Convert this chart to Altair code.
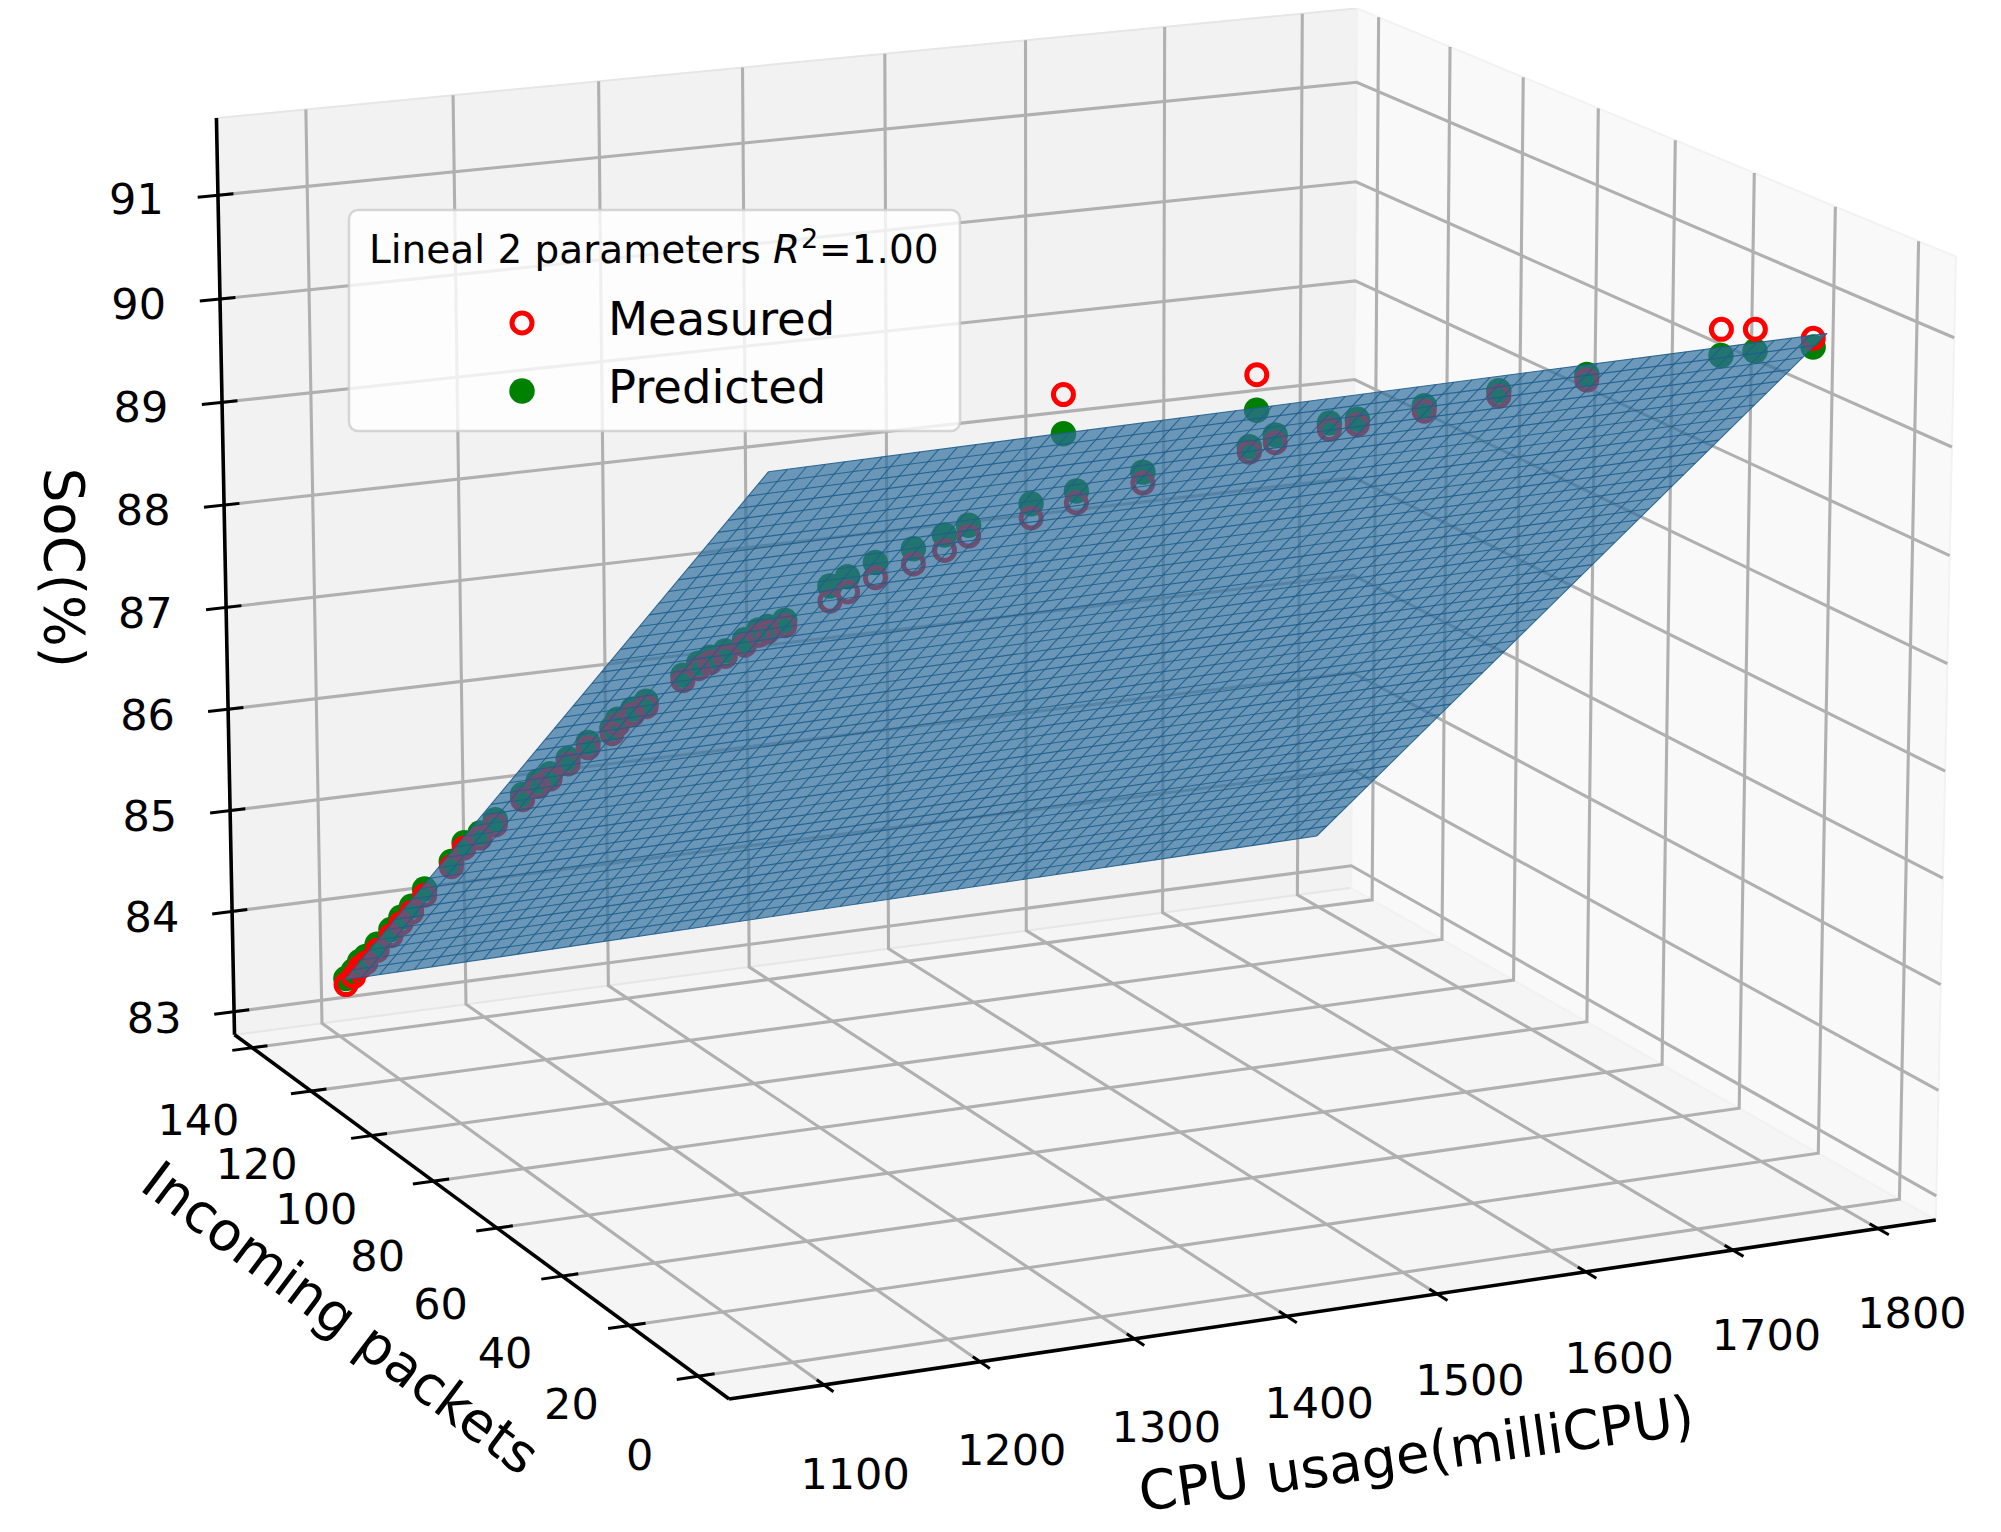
import math
import altair as alt
import pandas as pd

# ---------------- data ----------------
cpu_usage = [1102, 1103, 1102, 1103, 1104, 1105, 1105, 1106, 1105, 1108,
             1106, 1112, 1115, 1120, 1123, 1127, 1131, 1136, 1145, 1143,
             1148, 1153, 1164, 1168, 1173, 1180, 1188, 1192, 1196, 1205,
             1216, 1223, 1235, 1254, 1268, 1280, 1312, 1337, 1290, 1374,
             1416, 1436, 1447, 1481, 1500, 1539, 1585, 1641, 1730, 1754, 1796]
incoming_packets = [138.6, 136.5, 133.8, 132.2, 128.8, 124.6, 121.2, 118.1, 113.2, 105.8,
                    100.6, 98.3, 94.8, 88.4, 84.9, 83.0, 79.2, 75.3, 72.1, 69.4,
                    67.1, 65.3, 59.2, 56.3, 55.1, 53.8, 51.7, 49.3, 48.5, 47.5,
                    39.3, 37.3, 34.6, 32.1, 29.4, 27.8, 24.1, 22.2, 6.2, 19.5,
                    6.5, 16.3, 13.9, 13.2, 13.4, 11.3, 9.9, 8.8, 8.2, 8.5, 9.3]
soc_predicted = [83.37, 83.49, 83.64, 83.72, 83.91, 84.14, 84.33, 84.50, 84.77, 85.18,
                 85.47, 85.60, 85.79, 86.15, 86.34, 86.44, 86.65, 86.87, 87.05, 87.19,
                 87.32, 87.42, 87.76, 87.92, 87.99, 88.06, 88.19, 88.32, 88.36, 88.42,
                 88.87, 88.98, 89.14, 89.28, 89.43, 89.53, 89.74, 89.85, 90.72, 90.01,
                 90.73, 90.20, 90.33, 90.40, 90.40, 90.50, 90.59, 90.67, 90.72, 90.72, 90.68]
soc_measured = [83.31, 83.43, 83.58, 83.66, 83.85, 84.08, 84.27, 84.44, 84.71, 85.13,
                85.42, 85.55, 85.74, 86.10, 86.29, 86.39, 86.60, 86.82, 87.00, 87.14,
                87.27, 87.37, 87.71, 87.87, 87.94, 88.01, 88.14, 88.27, 88.31, 88.37,
                88.73, 88.84, 89.00, 89.14, 89.29, 89.43, 89.61, 89.74, 91.07, 89.91,
                91.05, 90.15, 90.26, 90.34, 90.35, 90.45, 90.54, 90.62, 90.96, 90.92, 90.76]

cpu_ticks = [1100, 1200, 1300, 1400, 1500, 1600, 1700, 1800]
packet_ticks = [0, 20, 40, 60, 80, 100, 120, 140]
soc_ticks = [83, 84, 85, 86, 87, 88, 89, 90, 91]

# fitted plane drawn as a surface: corner values
surface_cpu = [1102, 1796]
surface_packets = [139, 6]
surface_soc = [83.35, 83.53, 90.68, 90.86]   # (c0,p0) (c1,p0) (c0,p1) (c1,p1)
mesh_cpu_steps = 58
mesh_packet_steps = 46

axis_titles = ["CPU usage(milliCPU)", "Incoming packets", "SoC(%)"]
legend_title = ["Lineal 2 parameters", "R", "2", "=1.00"]
series_names = ["Measured", "Predicted"]

# ---------------- camera / layout ----------------
ELEV, AZIM, DIST = 15.0, -115.0, 10.0
XLIM = (1039.8, 1840.2)
YLIM = (-8.8, 146.1)
ZLIM = (82.77, 91.74)
_asp = [4.0, 4.0, 3.0]
_n = math.sqrt(sum(a * a for a in _asp))
BOX = [a * 1.8294640721620434 / _n for a in _asp]
KX, KY, CX, CY = 11318.0, 11345.0, 1062.7, 660.4
W, H, M = 1985, 1516, 8
FONT = "DejaVu Sans"
RING_SIZE, DOT_SIZE = 400, 650

_e, _a = math.radians(ELEV), math.radians(AZIM)
U = (-math.sin(_a), math.cos(_a), 0.0)
V = (-math.sin(_e) * math.cos(_a), -math.sin(_e) * math.sin(_a), math.cos(_e))
N = (math.cos(_e) * math.cos(_a), math.cos(_e) * math.sin(_a), math.sin(_e))
XR, YR, ZR = XLIM[1] - XLIM[0], YLIM[1] - YLIM[0], ZLIM[1] - ZLIM[0]


def project(ch):
    return (ch.transform_calculate(
        qx=f"((datum.X - ({XLIM[0]})) / {XR} - 0.5) * {BOX[0]}",
        qy=f"((datum.Y - ({YLIM[0]})) / {YR} - 0.5) * {BOX[1]}",
        qz=f"((datum.Z - ({ZLIM[0]})) / {ZR} - 0.5) * {BOX[2]}",
    ).transform_calculate(
        qd=f"{DIST} - (({N[0]})*datum.qx + ({N[1]})*datum.qy + ({N[2]})*datum.qz)"
    ).transform_calculate(
        sx=f"{CX} + {KX} * (({U[0]})*datum.qx + ({U[1]})*datum.qy) / datum.qd",
        sy=f"{CY} - {KY} * (({V[0]})*datum.qx + ({V[1]})*datum.qy + ({V[2]})*datum.qz) / datum.qd",
    ))


XS = alt.Scale(domain=[M, M + W], nice=False, zero=False)
YS = alt.Scale(domain=[M, M + H], nice=False, zero=False, reverse=True)


def xy():
    return dict(x=alt.X("sx:Q", scale=XS, axis=None),
                y=alt.Y("sy:Q", scale=YS, axis=None))


x0, x1 = XLIM
y0, y1 = YLIM
z0, z1 = ZLIM
layers = []

# panes
panes = [
    ("floor", [(x0, y0, z0), (x1, y0, z0), (x1, y1, z0), (x0, y1, z0)], "#f5f5f5", "#ececec"),
    ("back", [(x0, y1, z0), (x1, y1, z0), (x1, y1, z1), (x0, y1, z1)], "#f2f2f2", "#e6e6e6"),
    ("right", [(x1, y0, z0), (x1, y1, z0), (x1, y1, z1), (x1, y0, z1)], "#f9f9f9", "#f2f2f2"),
]
for name, pts, fc, ec in panes:
    pts = pts + [pts[0]]
    df = pd.DataFrame({"k": range(len(pts)), "X": [p[0] for p in pts],
                       "Y": [p[1] for p in pts], "Z": [p[2] for p in pts]})
    layers.append(project(alt.Chart(df)).mark_line(fill=fc, stroke=ec, strokeWidth=2)
                  .encode(**xy(), order="k:Q"))

# grid lines
rows = []
for i, v in enumerate(cpu_ticks):
    for k, p in enumerate([(v, y0, z0), (v, y1, z0), (v, y1, z1)]):
        rows.append({"g": f"x{i}", "k": k, "X": p[0], "Y": p[1], "Z": p[2]})
for i, v in enumerate(packet_ticks):
    for k, p in enumerate([(x0, v, z0), (x1, v, z0), (x1, v, z1)]):
        rows.append({"g": f"y{i}", "k": k, "X": p[0], "Y": p[1], "Z": p[2]})
for i, v in enumerate(soc_ticks):
    for k, p in enumerate([(x0, y1, v), (x1, y1, v), (x1, y0, v)]):
        rows.append({"g": f"z{i}", "k": k, "X": p[0], "Y": p[1], "Z": p[2]})
layers.append(project(alt.Chart(pd.DataFrame(rows))).mark_line(color="#b0b0b0", strokeWidth=3.1)
              .encode(**xy(), detail="g:N", order="k:Q"))

# axis lines
rows = []
for g, pts in [("x", [(x0, y0, z0), (x1, y0, z0)]), ("y", [(x0, y0, z0), (x0, y1, z0)]),
               ("z", [(x0, y1, z0), (x0, y1, z1)])]:
    for k, p in enumerate(pts):
        rows.append({"g": g, "k": k, "X": p[0], "Y": p[1], "Z": p[2]})
layers.append(project(alt.Chart(pd.DataFrame(rows))).mark_line(color="black", strokeWidth=3.6)
              .encode(**xy(), detail="g:N", order="k:Q"))

# tick marks
OUT, INN = 0.017, 0.013
rows = []
for i, v in enumerate(cpu_ticks):
    for k, yy in enumerate([y0 - OUT * YR, y0 + INN * YR]):
        rows.append({"g": f"x{i}", "k": k, "X": v, "Y": yy, "Z": z0})
for i, v in enumerate(packet_ticks):
    for k, xx in enumerate([x0 - OUT * XR, x0 + INN * XR]):
        rows.append({"g": f"y{i}", "k": k, "X": xx, "Y": v, "Z": z0})
for i, v in enumerate(soc_ticks):
    for k, xx in enumerate([x0 - OUT * XR, x0 + INN * XR]):
        rows.append({"g": f"z{i}", "k": k, "X": xx, "Y": y1, "Z": v})
layers.append(project(alt.Chart(pd.DataFrame(rows))).mark_line(color="black", strokeWidth=3)
              .encode(**xy(), detail="g:N", order="k:Q"))

# tick labels
rows = []
for v in cpu_ticks:
    rows.append({"t": str(v), "X": v, "Y": y0 - 0.055 * YR, "Z": z0 - 0.07 * ZR})
for v in packet_ticks:
    rows.append({"t": str(v), "X": x0 - 0.047 * XR, "Y": v, "Z": z0 - 0.074 * ZR})
for v in soc_ticks:
    rows.append({"t": str(v), "X": x0 - 0.066 * XR, "Y": y1 + 0.006 * YR, "Z": v})
layers.append(project(alt.Chart(pd.DataFrame(rows)))
              .mark_text(font=FONT, fontSize=43, align="center", baseline="middle", color="black")
              .encode(**xy(), text="t:N"))

# axis titles (aligned with their axes)
title_pos = [
    (axis_titles[0], (x0 + 0.49 * XR, y0 - 0.136 * YR, z0 - 0.097 * ZR), 352),
    (axis_titles[1], (x0 - 0.108 * XR, y0 + 0.5 * YR, z0 - 0.10 * ZR), 37),
    (axis_titles[2], (x0 - 0.104 * XR, y1 + 0.0953 * YR, z0 + 0.5 * ZR), 90),
]
for txt, p, ang in title_pos:
    df = pd.DataFrame({"t": [txt], "X": [p[0]], "Y": [p[1]], "Z": [p[2]]})
    layers.append(project(alt.Chart(df))
                  .mark_text(font=FONT, fontSize=54.5, align="center", baseline="middle",
                             angle=ang, color="black")
                  .encode(**xy(), text="t:N"))

# scatter
pred_df = pd.DataFrame({"X": cpu_usage, "Y": incoming_packets, "Z": soc_predicted})
meas_df = pd.DataFrame({"X": cpu_usage, "Y": incoming_packets, "Z": soc_measured})
layers.append(project(alt.Chart(pred_df))
              .mark_point(shape="circle", filled=True, size=DOT_SIZE, color="#008000", opacity=1)
              .encode(**xy()))
layers.append(project(alt.Chart(meas_df))
              .mark_point(shape="circle", filled=False, size=RING_SIZE, stroke="#ff0000",
                          strokeWidth=5, opacity=1)
              .encode(**xy()))

# surface
c0, c1 = surface_cpu
p0, p1 = surface_packets
s00, s10, s01, s11 = surface_soc
corner = [(c0, p0, s00), (c1, p0, s10), (c1, p1, s11), (c0, p1, s01), (c0, p0, s00)]
surf_df = pd.DataFrame({"k": range(5), "X": [c[0] for c in corner],
                        "Y": [c[1] for c in corner], "Z": [c[2] for c in corner]})
layers.append(project(alt.Chart(surf_df))
              .mark_line(fill="#31709e", fillOpacity=0.7, strokeOpacity=0)
              .encode(**xy(), order="k:Q"))

bil = (f"{s00}*(1-datum.ec)*(1-datum.ep) + {s10}*datum.ec*(1-datum.ep) + "
       f"{s01}*(1-datum.ec)*datum.ep + {s11}*datum.ec*datum.ep")
mesh_p = (alt.Chart(alt.sequence(0, 2 * (mesh_packet_steps + 1), as_="i"))
          .transform_calculate(line="floor(datum.i / 2)", ec="datum.i % 2")
          .transform_calculate(ep=f"datum.line / {mesh_packet_steps}")
          .transform_calculate(X=f"{c0} + datum.ec * ({c1 - c0})",
                               Y=f"{p0} + datum.ep * ({p1 - p0})", Z=bil))
layers.append(project(mesh_p).mark_line(color="#1f5e8c", strokeWidth=1.1, opacity=0.9)
              .encode(**xy(), detail="line:N", order="ec:Q"))
mesh_c = (alt.Chart(alt.sequence(0, 2 * (mesh_cpu_steps + 1), as_="i"))
          .transform_calculate(line="floor(datum.i / 2)", ep="datum.i % 2")
          .transform_calculate(ec=f"datum.line / {mesh_cpu_steps}")
          .transform_calculate(X=f"{c0} + datum.ec * ({c1 - c0})",
                               Y=f"{p0} + datum.ep * ({p1 - p0})", Z=bil))
layers.append(project(mesh_c).mark_line(color="#1f5e8c", strokeWidth=1.1, opacity=0.9)
              .encode(**xy(), detail="line:N", order="ep:Q"))

# legend
one = pd.DataFrame({"a": [0]})


def pv(v):
    return alt.value(v - M)


layers.append(alt.Chart(one).mark_rect(fill="white", fillOpacity=0.8, stroke="#cccccc",
                                       strokeOpacity=0.8, strokeWidth=2.5, cornerRadius=9)
              .encode(x=pv(349), x2=pv(960), y=pv(210), y2=pv(431)))
for txt, xpos, ypos, size, style in [(legend_title[0], 369, 263, 39, "normal"),
                                      (legend_title[1], 773, 263, 39, "italic"),
                                      (legend_title[2], 801, 248, 27, "normal"),
                                      (legend_title[3], 819, 263, 39, "normal"),
                                      (series_names[0], 608, 335, 46.5, "normal"),
                                      (series_names[1], 608, 403, 46.5, "normal")]:
    layers.append(alt.Chart(one).mark_text(font=FONT, fontSize=size, fontStyle=style,
                                           align="left", baseline="alphabetic", color="black")
                  .encode(x=pv(xpos), y=pv(ypos), text=alt.value(txt)))
layers.append(alt.Chart(one).mark_point(shape="circle", filled=False, size=RING_SIZE,
                                        stroke="#ff0000", strokeWidth=5, opacity=1)
              .encode(x=pv(522), y=pv(323)))
layers.append(alt.Chart(one).mark_point(shape="circle", filled=True, size=DOT_SIZE,
                                        color="#008000", opacity=1)
              .encode(x=pv(522), y=pv(391)))

chart = (alt.layer(*layers)
         .properties(width=W, height=H, padding=0,
                     autosize=alt.AutoSizeParams(type="none"), background="white")
         .configure_view(stroke=None))

chart.save("out.html", embed_options={"renderer": "svg", "actions": False})
